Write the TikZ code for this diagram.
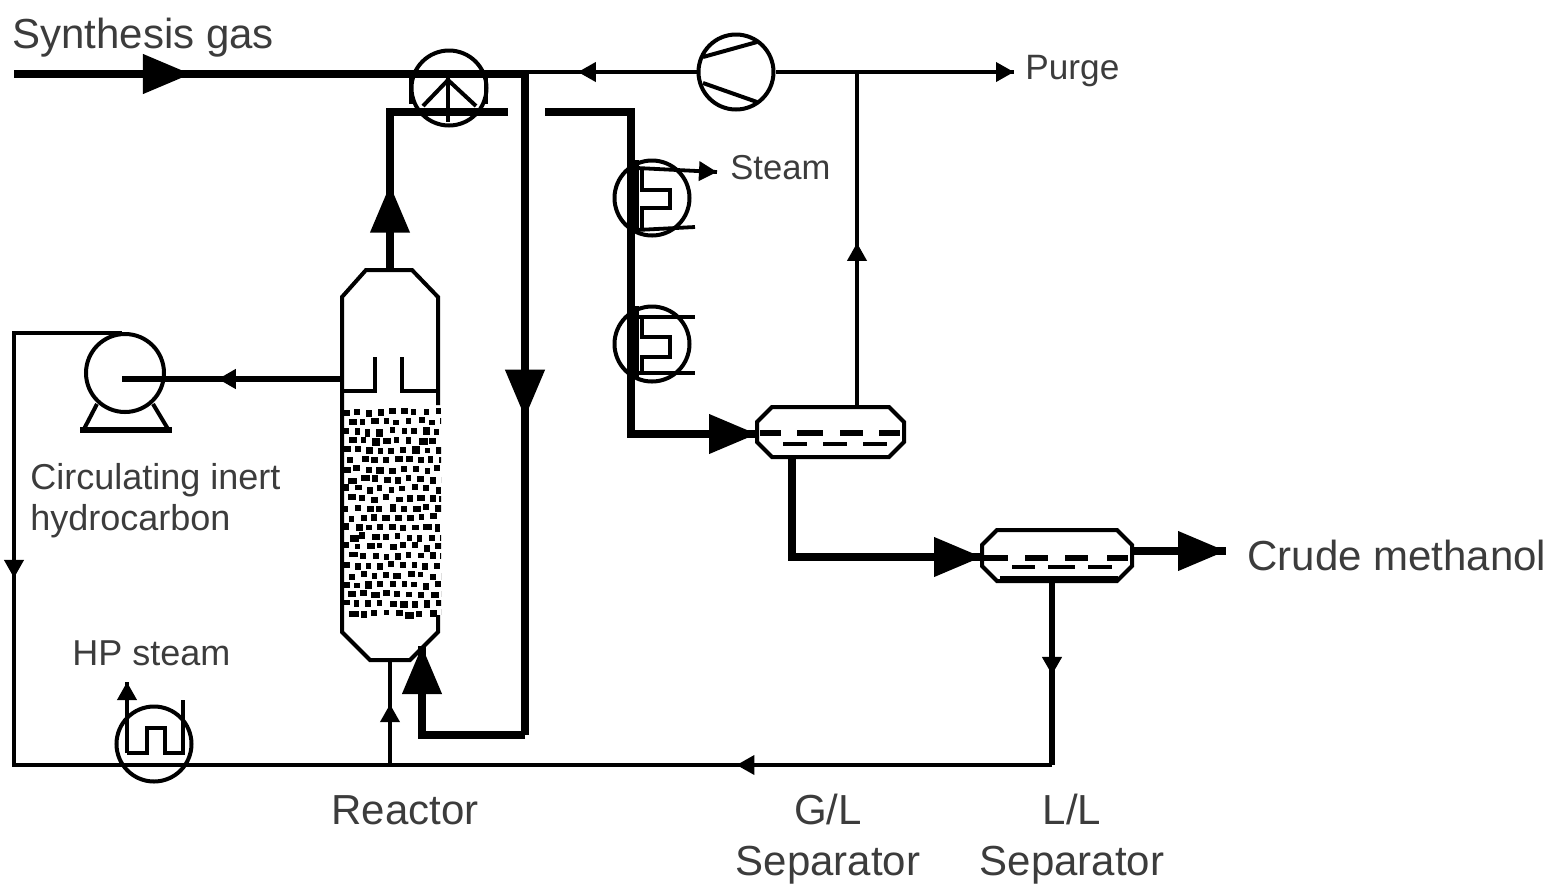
\documentclass[tikz,border=0pt]{standalone}
\usepackage{fontspec}
\setmainfont{Liberation Sans}
\usetikzlibrary{arrows.meta,positioning,calc,decorations.markings}
\definecolor{txtgray}{RGB}{60,60,60}
\tikzset{
  hot/.style={black, line width=3.7pt},
  mid/.style={black, line width=2.8pt},
  cold/.style={black, line width=1.9pt},
  vessel/.style={draw=black, line width=2pt},
  round eq/.style={circle, draw=black, line width=2pt, inner sep=0pt, minimum size=37.5pt},
  bigflow/.style={postaction={decorate, decoration={markings,
      mark=at position #1 with {\arrow{Triangle[length=24pt,width=19pt]}}}}},
  smallflow/.style={postaction={decorate, decoration={markings,
      mark=at position #1 with {\arrow{Triangle[length=9pt,width=9.5pt]}}}}},
  lblbig/.style={text=txtgray, inner sep=0pt, font=\fontsize{21}{25.5}\selectfont, align=center},
  lblsm/.style={text=txtgray, inner sep=0pt, font=\fontsize{18}{20.5}\selectfont, align=left},
}

\begin{document}
\begin{tikzpicture}[x=0.5pt, y=-0.5pt]
  \useasboundingbox (0,0) rectangle (1554,891);
  % equipment
  \node[round eq] (hxfeed) at (449,88) {};
  \node[round eq] (comp) at (736,72) {};
  \node[round eq] (hxone) at (652,198) {};
  \node[round eq] (hxtwo) at (652,344) {};
  \node[round eq] (hxsteam) at (154,744) {};
  \node[round eq, minimum size=39pt] (pump) at (125,373) {};
  % junctions and free ends
  \coordinate (feedin) at (14,74);
  \coordinate (tee) at (527,74);
  \coordinate (teethin) at (527,72);
  \coordinate (purgeend) at (1014,72);
  \coordinate (purgetee) at (857,72);
  \coordinate (gltop) at (857,407);
  \coordinate (rtop) at (390,270);
  \coordinate (rbot) at (390,660);
  \coordinate (rin) at (422,646);
  \coordinate (hotout) at (390,112);
  \coordinate (hotend) at (508,112);
  \coordinate (hotback) at (545,112);
  \coordinate (coolbend) at (631,112);
  \coordinate (coolend) at (631,434);
  \coordinate (glin) at (757,434);
  \coordinate (glout) at (792,457);
  \coordinate (glbend) at (792,557);
  \coordinate (llin) at (982,557);
  \coordinate (llout) at (1132,551);
  \coordinate (crudeend) at (1226,551);
  \coordinate (lldown) at (1052,581);
  \coordinate (recycle) at (1052,765);
  \coordinate (leftbot) at (14,765);
  \coordinate (lefttop) at (14,333);
  \coordinate (pumptop) at (122,333);
  \coordinate (pumpeye) at (122,379);
  \coordinate (rside) at (342,379);
  \coordinate (rfeed) at (390,765);
  \coordinate (hotbot) at (525,735);
  \coordinate (hotleft) at (422,735);
  % reactor
  \draw[vessel] (438,405) -- (438,297) -- (412,270) -- (366,270) -- (342,297) -- (342,632)
    -- (370,660) -- (410,660) -- (438,632) -- (438,615);
  \draw[vessel] (342,391) -- (375,391) -- (375,357);
  \draw[vessel] (438,391) -- (402,391) -- (402,357);
  \pgfmathsetseed{11}
  \begin{scope}
    \clip (341,408) rectangle (441,620);
    \foreach \row in {0,...,21}{
      \foreach \col in {0,...,8}{
        \pgfmathsetmacro{\dotx}{343+\col*11.5+mod(\row,2)*5.7+rnd*3-1.5}
        \pgfmathsetmacro{\doty}{409+\row*9.6+rnd*3-1.5}
        \pgfmathsetmacro{\dotw}{5.2+rnd*rnd*5}
        \pgfmathsetmacro{\doth}{5.6+rnd*rnd*2.5}
        \fill[black] (\dotx,\doty) rectangle ++(\dotw,\doth);
      }
    }
  \end{scope}
  % hot streams
  \draw[hot, bigflow=0.345] (feedin) -- (tee);
  \draw[hot] (rtop) -- (hotout) -- (hotend);
  \draw[hot, bigflow=0.54] (rtop) -- (hotout);
  \draw[hot] (hotback) -- (coolbend) -- (coolend) -- (glin);
  \draw[hot, bigflow=1] (coolend) -- (glin);
  \draw[hot, bigflow=0.52] (525,74) -- (hotbot);
  \draw[hot] (hotbot) -- (hotleft) -- (rin);
  \draw[hot, bigflow=1] (hotleft) -- (rin);
  \draw[hot] (glout) -- (glbend) -- (llin);
  \draw[hot, bigflow=1] (glbend) -- (llin);
  \draw[hot, bigflow=1] (llout) -- (crudeend);
  % thin streams
  \draw[cold, smallflow=0.7] (comp.west) -- (teethin);
  \draw[cold, smallflow=1] (comp.east) -- (purgeend);
  \draw[cold, smallflow=0.49] (gltop) -- (purgetee);
  \draw[mid, smallflow=0.51] (lldown) -- (recycle);
  \draw[cold, smallflow=0.2] (recycle) -- (leftbot) -- (lefttop) -- (pumptop);
  \draw[cold, smallflow=0.567] (lefttop) -- (leftbot);
  \draw[cold, smallflow=0.58] (rfeed) -- (rbot);
  \draw[mid, smallflow=0.564] (rside) -- (pumpeye);
  % pump base
  \draw[vessel] (97,404) -- (84,429);
  \draw[vessel] (153,404) -- (168,429);
  \draw[mid] (80,430) -- (172,430);
  % compressor blades
  \draw[vessel] (703,57) -- (757,42);
  \draw[vessel] (703,83) -- (757,102);
  % feed exchanger insides
  \draw[vessel] (411,74) -- (411,104);
  \draw[vessel] (486,74) -- (486,104);
  \draw[vessel] (448,78) -- (448,122);
  \draw[vessel] (448,80) -- (423,106);
  \draw[vessel] (448,80) -- (476,106);
  % steam exchangers
  \draw[cold] (637,160) -- (637,232);
  \draw[cold, smallflow=1] (637,168) -- (717,172);
  \draw[vessel] (642,170) -- (642,190) -- (670,190) -- (670,208) -- (642,208) -- (642,230);
  \draw[cold] (637,230) -- (695,227);
  \draw[cold] (637,306) -- (637,378);
  \draw[cold] (637,317) -- (695,317);
  \draw[vessel] (642,317) -- (642,337) -- (670,337) -- (670,357) -- (642,357) -- (642,373);
  \draw[cold] (637,373) -- (695,373);
  % HP steam exchanger
  \draw[vessel] (183,700) -- (183,753) -- (165,753) -- (165,728) -- (147,728) -- (147,753) -- (127,753);
  \draw[cold, smallflow=1] (127,753) -- (127,682);
  % separators
  \draw[vessel] (772,407) -- (889,407) -- (904,422) -- (904,442) -- (889,457) -- (772,457) -- (757,442) -- (757,422) -- cycle;
  \draw[vessel] (997,530) -- (1117,530) -- (1132,545) -- (1132,566) -- (1117,581) -- (997,581) -- (982,566) -- (982,545) -- cycle;
  \foreach \a/\b in {760/781,797/823,840/863,879/900}{
    \draw[mid] (\a,433) -- (\b,433);
  }
  \foreach \a/\b in {783/807,823/847,863/887}{
    \draw[cold] (\a,444) -- (\b,444);
  }
  \foreach \a/\b in {983/1008,1025/1048,1065/1088,1107/1128}{
    \draw[mid] (\a,558) -- (\b,558);
  }
  \foreach \a/\b in {1012/1035,1048/1075,1088/1112}{
    \draw[cold] (\a,567) -- (\b,567);
  }
  \draw[mid] (1000,579) -- (1118,579);
  % labels
  \node[lblbig, anchor=west] (synlbl) at (12,38) {Synthesis gas};
  \node[lblsm, anchor=west, font=\fontsize{17.6}{20}\selectfont] (purgelbl) at (1025,71) {Purge};
  \node[lblsm, anchor=west, font=\fontsize{17.3}{20}\selectfont] (steamlbl) at (730,168) {Steam};
  \node[lblsm, anchor=west] (inertlbl) at (30,501) {Circulating inert\\hydrocarbon};
  \node[lblsm, anchor=west] (hplbl) at (72,653) {HP steam};
  \node[lblbig, anchor=west] (crudelbl) at (1247,555) {Crude methanol};
  \node[lblbig] (reactlbl) at (405,810) {Reactor};
  \node[lblbig] (gllbl) at (828,839) {G/L\\Separator};
  \node[lblbig] (lllbl) at (1072,839) {L/L\\Separator};
\end{tikzpicture}
\end{document}
